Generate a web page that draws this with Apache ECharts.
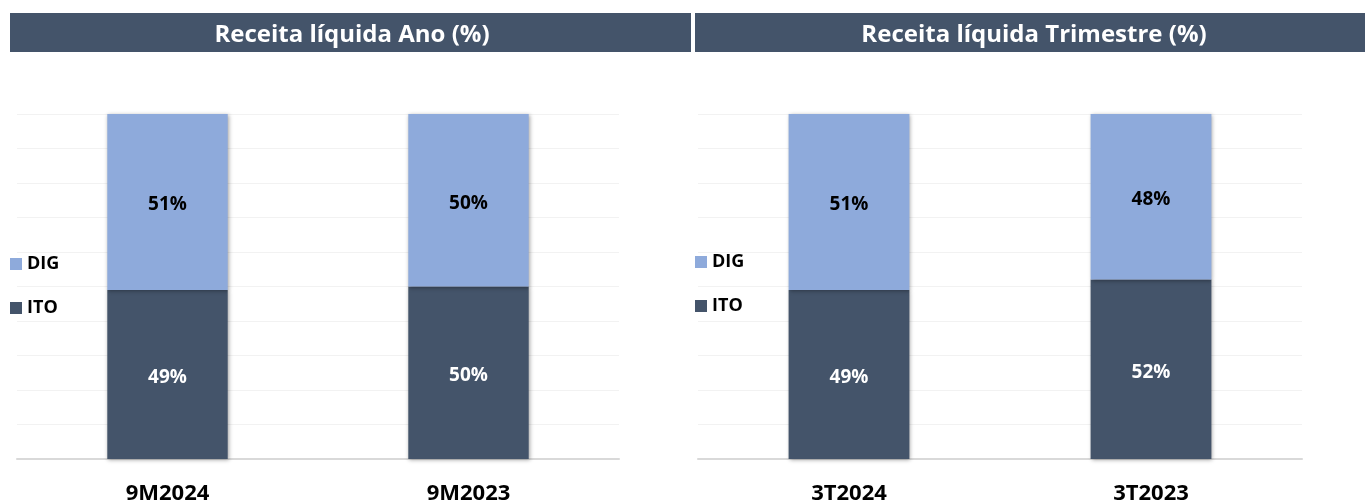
<!DOCTYPE html>
<html>
<head>
<meta charset="utf-8">
<script src="https://cdn.jsdelivr.net/npm/echarts@6/dist/echarts.min.js"></script>
<style>
  html, body { margin: 0; padding: 0; background: #fff; }
  #chart { width: 1365px; height: 502px; }
</style>
</head>
<body>
<div id="chart"></div>
<script>
// dados
const anoCategorias = ['9M2024', '9M2023']
const anoITO = [49, 50]
const anoDIG = [51, 50]
const triCategorias = ['3T2024', '3T2023']
const triITO = [49, 52]
const triDIG = [51, 48]

const corITO = '#44546a'
const corDIG = '#8eaadb'
const fonte = '"Open Sans", "Noto Sans", sans-serif'

let myChart = echarts.init(document.getElementById('chart'))

function barSeries (name, data, color, idx, labelColor) {
  return {
    name: name,
    type: 'bar',
    stack: 'total' + idx,
    xAxisIndex: idx,
    yAxisIndex: idx,
    barWidth: '40%',
    data: data,
    itemStyle: {
      color: color,
      shadowColor: 'rgba(0,0,0,0.35)',
      shadowBlur: 4,
      shadowOffsetX: 1,
      shadowOffsetY: 1
    },
    label: {
      show: true,
      position: 'inside',
      formatter: '{c}%',
      color: labelColor,
      fontFamily: fonte,
      fontWeight: 'bold',
      fontSize: 19,
      offset: [0, 3]
    }
  }
}

function xAxisCfg (cats, idx) {
  return {
    type: 'category',
    gridIndex: idx,
    data: cats,
    axisTick: { show: false },
    axisLine: { lineStyle: { color: '#d9d9d9', width: 2 } },
    axisLabel: {
      color: '#000',
      fontFamily: fonte,
      fontWeight: 'bold',
      fontSize: 22,
      margin: 24
    }
  }
}

function yAxisCfg (idx) {
  return {
    type: 'value',
    gridIndex: idx,
    min: 0,
    max: 100,
    interval: 10,
    axisLabel: { show: false },
    axisLine: { show: false },
    axisTick: { show: false },
    splitLine: { lineStyle: { color: '#f2f2f2' } }
  }
}

function legendCfg (left, top) {
  return {
    left: left,
    top: top,
    orient: 'vertical',
    itemWidth: 12,
    itemHeight: 12,
    itemGap: 26,
    icon: 'rect',
    data: ['DIG', 'ITO'],
    textStyle: {
      color: '#000',
      fontFamily: fonte,
      fontWeight: 'bold',
      fontSize: 18
    }
  }
}

myChart.setOption({
  animation: false,
  graphic: [
    { type: 'rect', left: 10, top: 13, shape: { width: 681, height: 39 }, style: { fill: corITO } },
    { type: 'rect', left: 695, top: 13, shape: { width: 670, height: 39 }, style: { fill: corITO } },
    {
      type: 'text', x: 352, y: 35,
      style: { text: 'Receita líquida Ano (%)', fill: '#fff', font: 'bold 24px ' + fonte, align: 'center', verticalAlign: 'middle' }
    },
    {
      type: 'text', x: 1034, y: 35,
      style: { text: 'Receita líquida Trimestre (%)', fill: '#fff', font: 'bold 24px ' + fonte, align: 'center', verticalAlign: 'middle' }
    }
  ],
  legend: [
    legendCfg(5, 250),
    legendCfg(690, 248)
  ],
  grid: [
    { left: 17, width: 602, top: 114, height: 345, outerBoundsMode: 'none' },
    { left: 698, width: 604, top: 114, height: 345, outerBoundsMode: 'none' }
  ],
  xAxis: [xAxisCfg(anoCategorias, 0), xAxisCfg(triCategorias, 1)],
  yAxis: [yAxisCfg(0), yAxisCfg(1)],
  series: [
    barSeries('ITO', anoITO, corITO, 0, '#fff'),
    barSeries('DIG', anoDIG, corDIG, 0, '#000'),
    barSeries('ITO', triITO, corITO, 1, '#fff'),
    barSeries('DIG', triDIG, corDIG, 1, '#000')
  ]
})
</script>
</body>
</html>
